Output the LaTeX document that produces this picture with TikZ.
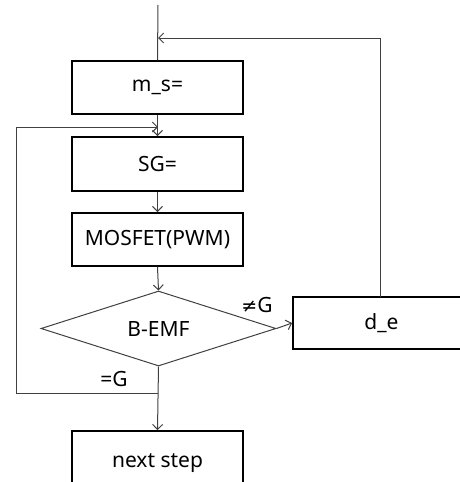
\documentclass[tikz,border=0pt]{standalone}
\usepackage{fontspec}
\setmainfont{Noto Sans}
\newfontfamily\symfont{DejaVu Sans}
\usetikzlibrary{shapes.geometric,arrows.meta}
\begin{document}
\begin{tikzpicture}[x=1pt,y=-1pt,
  box/.style={draw=black,line width=1.8pt,rectangle,inner sep=0pt,minimum width=171pt,font=\fontsize{21}{23}\selectfont},
  dec/.style={draw=black!75,line width=1pt,diamond,inner sep=0pt,aspect=3.13,minimum width=235pt,minimum height=75pt,font=\fontsize{21}{23}\selectfont},
  conn/.style={draw=black!75,line width=1pt},
  arr/.style={conn,-{Straight Barb[length=5pt,width=10pt,line width=1pt]}},
  lbl/.style={font=\fontsize{21}{23}\selectfont,inner sep=0pt}]
\useasboundingbox (0,0) rectangle (459,482);
\node[box,minimum height=53pt] (ms) at (157.5,87.5) {m\_s=};
\node[box,minimum height=54pt] (sg) at (157.5,164) {SG=};
\node[box,minimum height=53pt] (mos) at (157.5,239.5) {MOSFET(PWM)};
\node[dec] (bemf) at (158.5,328.5) {B-EMF};
\node[box,minimum width=177pt,minimum height=52pt] (de) at (381.5,323) {d\_e};
\node[box,minimum height=64pt] (next) at (157.5,463) {next step};
\node[lbl] (ne) at (257,305) {{\symfont\fontsize{19}{23}\selectfont ≠}G};
\node[lbl] (eq) at (114,379) {=G};
\coordinate (top) at (158,5);
\coordinate (r1) at (380,38);
\coordinate (r2) at (158,38);
\coordinate (l0) at (158,393);
\coordinate (l1) at (16,393);
\coordinate (l2) at (16,127);
\coordinate (l3) at (158,127);
\coordinate (dtop) at (380,297);
\draw[conn] (top) -- (ms.north);
\draw[arr] (dtop) -- (r1) -- (r2);
\draw[arr] (ms.south) -- (sg.north);
\draw[arr] (l0) -- (l1) -- (l2) -- (l3);
\draw[arr] (sg.south) -- (mos.north);
\draw[arr] (mos.south) -- (bemf.north);
\draw[arr] (bemf.east) -- (de.west);
\draw[arr] (bemf.south) -- (next.north);
\end{tikzpicture}
\end{document}
